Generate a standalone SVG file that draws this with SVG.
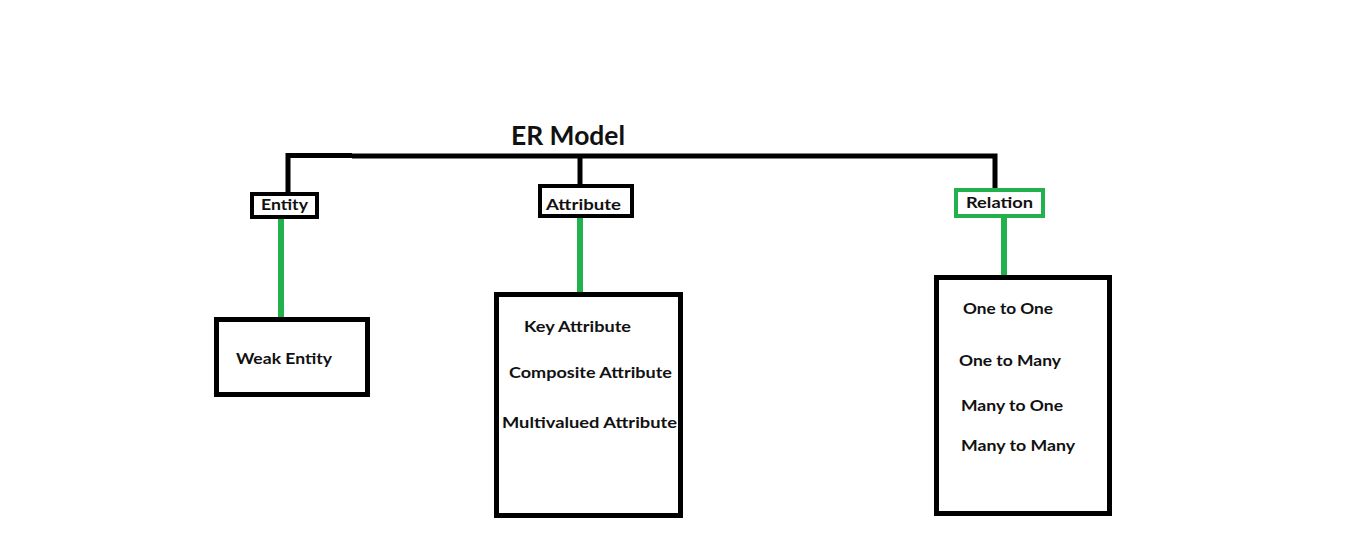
<svg xmlns="http://www.w3.org/2000/svg" width="1360" height="544" viewBox="0 0 1360 544">
<style>
.t{font-family:Lato,"Liberation Sans",sans-serif;font-weight:bold;fill:#111;font-size:16px}
.box{fill:#fff;stroke:#000;stroke-width:4}
.big{fill:#fff;stroke:#000;stroke-width:5}
.blk{stroke:#000;stroke-width:5;fill:none}
.grn{stroke:#22b14c;stroke-width:6;fill:none}
</style>
<rect width="1360" height="544" fill="#fff"/>
<text class="t" x="511" y="145" style="font-size:26px" textLength="114" lengthAdjust="spacingAndGlyphs">ER Model</text>
<g id="connectors">
<path class="blk" d="M288 193 V155.5 H352 M352 156 H995 V190"/>
<path class="blk" d="M580 156 V186"/>
<path class="grn" d="M281 218 V318"/>
<path class="grn" d="M580 217 V294"/>
<path class="grn" d="M1004 217 V277"/>
</g>
<g id="entity">
<rect class="box" x="252" y="194" width="65" height="23"/>
<text class="t" x="261" y="210" style="font-size:15px" textLength="47" lengthAdjust="spacingAndGlyphs">Entity</text>
</g>
<g id="attribute">
<rect class="box" x="540" y="186" width="92" height="30"/>
<text class="t" x="546" y="210" style="font-size:15px" textLength="75" lengthAdjust="spacingAndGlyphs">Attribute</text>
</g>
<g id="relation">
<rect x="956" y="190" width="87" height="26" fill="#fff" stroke="#22b14c" stroke-width="4"/>
<text class="t" x="966" y="208" style="font-size:15px" textLength="67" lengthAdjust="spacingAndGlyphs">Relation</text>
</g>
<g id="weak-entity">
<rect class="big" x="216.5" y="319.5" width="151" height="75"/>
<text class="t" x="236" y="364" textLength="96" lengthAdjust="spacingAndGlyphs">Weak Entity</text>
</g>
<g id="attribute-types">
<rect class="big" x="496.5" y="294.5" width="184" height="221"/>
<text class="t" x="524" y="332" textLength="107" lengthAdjust="spacingAndGlyphs">Key Attribute</text>
<text class="t" x="509" y="378" textLength="163" lengthAdjust="spacingAndGlyphs">Composite Attribute</text>
<text class="t" x="502" y="428" textLength="175" lengthAdjust="spacingAndGlyphs">Multivalued Attribute</text>
</g>
<g id="relation-types">
<rect class="big" x="936.5" y="277.5" width="173" height="236"/>
<text class="t" x="963" y="314" textLength="90" lengthAdjust="spacingAndGlyphs">One to One</text>
<text class="t" x="959" y="366" textLength="102" lengthAdjust="spacingAndGlyphs">One to Many</text>
<text class="t" x="961" y="411" textLength="102" lengthAdjust="spacingAndGlyphs">Many to One</text>
<text class="t" x="961" y="451" textLength="114" lengthAdjust="spacingAndGlyphs">Many to Many</text>
</g>
</svg>
